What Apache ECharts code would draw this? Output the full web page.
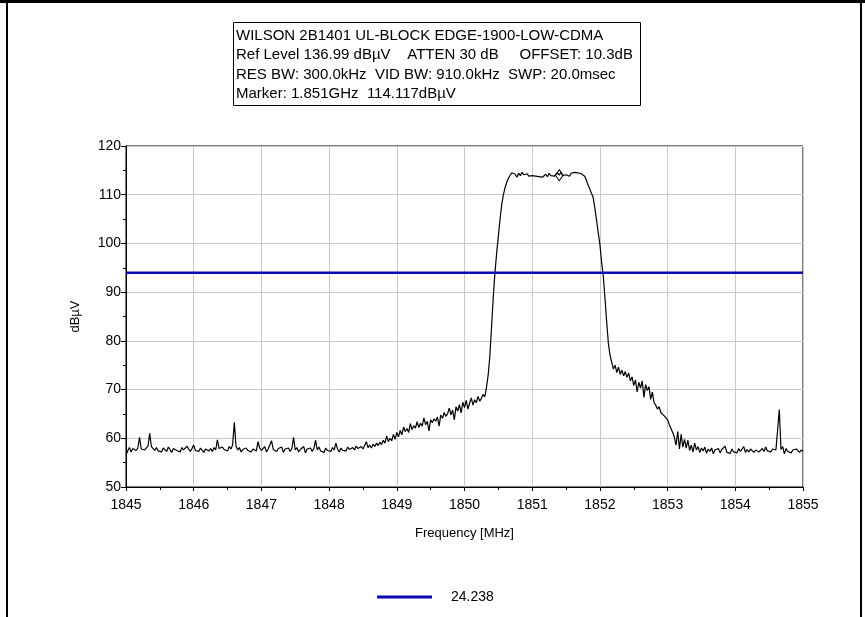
<!DOCTYPE html>
<html>
<head>
<meta charset="utf-8">
<script src="https://cdn.jsdelivr.net/npm/echarts@6/dist/echarts.min.js"></script>
<style>
html,body{margin:0;padding:0;background:#fff;}
#chart{width:865px;height:617px;}
</style>
</head>
<body>
<div id="chart"></div>
<script>
// ---- data ----
var freqStart = 1845;      // MHz
var freqStop = 1855;       // MHz
// trace amplitude (dBµV), equally spaced sweep points from freqStart to freqStop
var amplitude = [
 56.6, 57.4, 58.1, 57.2, 57.9, 58.3, 57.5, 58.0, 60.2, 57.8,
 58.2, 57.6, 57.9, 58.4, 61.0, 58.3, 57.9, 57.5, 58.1, 57.4,
 57.8, 57.2, 58.0, 57.6, 57.3, 58.2, 57.7, 57.1, 57.9, 58.3,
 57.5, 57.9, 57.2, 58.1, 57.6, 57.4, 58.4, 57.8, 57.3, 57.9,
 58.6, 57.5, 57.9, 57.3, 58.0, 57.6, 57.1, 57.8, 58.2, 57.4,
 57.9, 57.3, 58.1, 57.6, 59.7, 57.9, 57.5, 58.2, 57.7, 58.0,
 57.4, 58.3, 57.8, 58.6, 63.3, 58.4, 57.6, 58.1, 57.2, 57.7,
 57.3, 58.0, 57.5, 57.9, 57.2, 57.8, 58.2, 57.4, 59.3, 58.0,
 57.5, 57.9, 58.3, 57.2, 57.8, 57.4, 59.5, 57.7, 58.1, 57.3,
 57.9, 57.6, 58.2, 57.1, 57.8, 57.4, 58.0, 57.3, 57.9, 60.2,
 57.6, 58.1, 57.2, 57.7, 57.5, 58.3, 57.0, 57.8, 57.4, 58.0,
 57.3, 57.9, 59.6, 57.6, 58.2, 57.4, 57.8, 57.1, 58.0, 57.5,
 57.9, 57.3, 58.1, 57.6, 59.0, 57.8, 57.2, 58.0, 57.5, 57.9,
 57.4, 58.2, 57.7, 57.3, 58.1, 57.6, 58.4, 57.9, 57.5, 58.3,
 57.8, 58.5, 59.3, 58.1, 58.6, 58.0, 58.8, 58.3, 59.0, 58.5,
 59.2, 58.7,
 59.6, 59.0, 60.5, 59.3, 60.0, 59.5, 60.8, 59.8, 61.2, 60.3,
 61.6, 60.7, 62.3, 61.4, 62.0, 61.2, 63.0, 61.8, 62.6, 62.1,
 63.4, 62.2, 63.1, 62.5, 64.2, 62.8, 63.5, 61.5, 63.8,
 63.2, 64.0, 63.5, 64.4, 62.5, 64.8, 64.1, 65.3, 64.5, 65.0,
 66.2, 64.8, 65.8, 63.8, 66.5, 65.6, 66.9, 65.2, 67.4, 66.3,
 67.8, 66.0, 67.2, 68.3, 66.8, 67.9, 67.3, 68.6, 67.6, 68.2,
 69.0, 68.5,
 70.5, 73.0, 77.0, 83.0, 89.0, 94.0, 98.0, 101.5, 105.0, 108.0,
 110.0, 111.5, 112.6, 113.4, 114.0, 114.5, 114.7, 114.2,
 113.6, 114.4, 113.9, 114.6, 114.1, 113.7, 114.3, 113.8, 113.5, 113.9,
 113.6, 113.8, 113.4, 113.7, 114.0, 113.6, 113.9, 114.2, 113.7, 114.4,
 113.9, 114.3, 113.8, 114.2, 114.5, 114.0, 114.6, 113.9, 114.3, 114.1,
 114.5, 113.8, 114.4, 114.0, 114.6, 114.2, 114.5, 114.1, 114.3, 113.9,
 113.8,
 113.0, 112.0, 111.2, 110.3, 109.5, 107.3, 104.8, 102.3, 99.8, 96.2,
 93.2, 88.8, 83.9, 79.5, 77.0,
 75.6, 74.2, 75.0, 73.5, 74.6, 73.1, 74.0, 72.8, 73.7, 72.5, 73.4, 71.8,
 72.6, 70.8, 72.0, 69.5, 71.5, 70.3, 71.8, 68.4, 71.0, 69.8, 70.6, 68.0, 69.5,
 67.3, 66.8, 66.0, 66.5, 65.3, 65.6, 64.6, 64.9, 63.8,
 62.8, 62.0, 61.2, 60.2, 58.6, 61.4, 57.8, 60.8, 58.2, 59.8,
 58.0, 59.6, 57.5, 58.6, 57.2, 59.0, 57.6, 58.3, 57.1, 58.0,
 57.4, 58.2, 56.9, 57.8, 57.3, 58.0, 56.8, 57.6, 57.2, 57.9,
 57.0, 57.7, 57.3, 58.4, 57.1, 57.5, 56.9, 57.8, 57.2, 57.6,
 57.0, 57.9, 57.3, 57.5, 58.3, 57.1, 57.7, 57.2, 57.8, 57.4,
 57.1, 57.6, 58.0, 57.2, 57.5, 57.9, 57.3, 58.2, 57.4, 57.7,
 57.2, 57.8, 57.4, 57.6, 58.0, 65.9, 57.7, 58.3, 56.8, 57.9,
 57.3, 57.7, 57.0, 57.6, 57.2, 57.8, 57.4, 57.1, 57.6, 57.3
];
var markerIndex = 256;            // sweep point with marker diamond
var limitName = '24.238';         // legend label of the limit line
var limitLevel = 94;              // dBµV
var xTicks = {min: 1845, max: 1855, interval: 1};
var yTicks = {min: 50, max: 120, interval: 10};
var titleLines = [
  'WILSON 2B1401 UL-BLOCK EDGE-1900-LOW-CDMA',
  'Ref Level 136.99 dBµV    ATTEN 30 dB     OFFSET: 10.3dB',
  'RES BW: 300.0kHz  VID BW: 910.0kHz  SWP: 20.0msec',
  'Marker: 1.851GHz  114.117dBµV'
];
var xAxisName = 'Frequency [MHz]';
var yAxisName = 'dBµV';

// ---- build ----
var n = amplitude.length;
var step = (freqStop - freqStart) / (n - 1);
var trace = amplitude.map(function (v, i) { return [freqStart + i * step, v]; });
var limitData = [[freqStart, limitLevel], [freqStop, limitLevel]];
var FONT = 'Liberation Sans';

var chart = echarts.init(document.getElementById('chart'), null, {renderer: 'canvas'});
var titleGraphics = titleLines.map(function (t, i) {
  return {type: 'text', left: 236, top: 28 + i * 19.5,
    style: {text: t, fill: '#000', font: '15px "' + FONT + '"'}};
});
chart.setOption({
  animation: false,
  backgroundColor: '#fff',
  grid: {left: 126, right: 62, top: 146, bottom: 130, show: true,
    borderColor: '#000', borderWidth: 1, backgroundColor: 'transparent'},
  legend: {data: [limitName], left: 372, top: 585, itemWidth: 55, itemHeight: 3,
    icon: 'rect', textStyle: {fontFamily: FONT, fontSize: 14, color: '#000', padding: [0, 0, 0, 14]}},
  xAxis: {type: 'value', min: xTicks.min, max: xTicks.max, interval: xTicks.interval,
    name: xAxisName, nameLocation: 'middle', nameGap: 40,
    nameTextStyle: {fontFamily: FONT, fontSize: 13, color: '#000'},
    axisLine: {lineStyle: {color: '#000', width: 1}},
    axisTick: {show: true, length: 4, lineStyle: {color: '#000'}},
    minorTick: {show: true, splitNumber: 2, length: 3, lineStyle: {color: '#000'}},
    axisLabel: {fontFamily: FONT, fontSize: 14, color: '#000', margin: 11,
      formatter: function (v) { return String(v); }},
    splitLine: {show: true, lineStyle: {color: '#c8c8c8', width: 1}}},
  yAxis: {type: 'value', min: yTicks.min, max: yTicks.max, interval: yTicks.interval,
    name: yAxisName, nameLocation: 'middle', nameGap: 44, nameRotate: 90,
    nameTextStyle: {fontFamily: FONT, fontSize: 13, color: '#000'},
    axisLine: {show: true, lineStyle: {color: '#000', width: 1}},
    axisTick: {show: true, length: 5, lineStyle: {color: '#000'}},
    minorTick: {show: true, splitNumber: 2, length: 3, lineStyle: {color: '#000'}},
    axisLabel: {fontFamily: FONT, fontSize: 14, color: '#000', margin: 5,
      formatter: function (v) { return String(v); }},
    splitLine: {show: true, lineStyle: {color: '#c8c8c8', width: 1}}},
  series: [
    {type: 'line', name: 'trace', data: trace, symbol: 'none', silent: true,
      lineStyle: {color: '#000', width: 1.2}, itemStyle: {color: '#000'}, z: 3,
      markPoint: {symbol: 'diamond', symbolSize: [8, 11], silent: true,
        itemStyle: {color: 'rgba(0,0,0,0)', borderColor: '#000', borderWidth: 1},
        label: {show: false},
        data: [{coord: trace[markerIndex]}]}},
    {type: 'line', name: limitName, data: limitData, symbol: 'none', silent: true,
      lineStyle: {color: '#0a0ab0', width: 2.5}, itemStyle: {color: '#0a0ab0'}, z: 4}
  ],
  graphic: [
    {type: 'rect', shape: {x: 0, y: 0, width: 865, height: 3}, style: {fill: '#000'}},
    {type: 'rect', shape: {x: 6, y: 0, width: 2, height: 617}, style: {fill: '#000'}},
    {type: 'rect', shape: {x: 860, y: 0, width: 2, height: 617}, style: {fill: '#000'}},
    {type: 'rect', shape: {x: 233.5, y: 22.5, width: 407, height: 83},
      style: {fill: '#fff', stroke: '#000', lineWidth: 1}}
  ].concat(titleGraphics)
});
</script>
</body>
</html>
